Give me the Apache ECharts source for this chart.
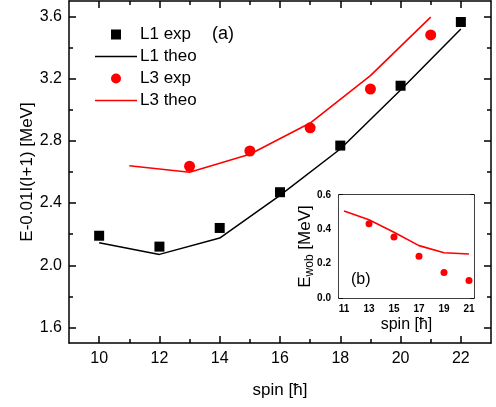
<!DOCTYPE html>
<html><head><meta charset="utf-8">
<script src="https://cdn.jsdelivr.net/npm/echarts@6/dist/echarts.min.js"></script>
<style>html,body{margin:0;padding:0;background:#fff}#c{width:496px;height:407px}</style>
</head><body><div id="c"></div>
<script>
// ---- data ----
const spinL1 = [10, 12, 14, 16, 18, 20, 22];
const l1Exp = [2.19, 2.12, 2.24, 2.47, 2.77, 3.155, 3.565];
const l1Theo = [2.145, 2.07, 2.175, 2.45, 2.748, 3.127, 3.52];
const spinL3Exp = [13, 15, 17, 19, 21];
const l3Exp = [2.637, 2.735, 2.884, 3.134, 3.482];
const spinL3Theo = [11, 13, 15, 17, 19, 21];
const l3Theo = [2.64, 2.598, 2.714, 2.915, 3.22, 3.596];
// inset (b)
const wobSpinExp = [13, 15, 17, 19, 21];
const wobExp = [0.432, 0.356, 0.243, 0.148, 0.102];
const wobSpinTheo = [11, 13, 15, 17, 19, 21];
const wobTheo = [0.507, 0.456, 0.383, 0.305, 0.264, 0.256];
// ticks
const xMajor = [10, 12, 14, 16, 18, 20, 22];
const xMinor = [11, 13, 15, 17, 19, 21];
const yMajor = [1.6, 2.0, 2.4, 2.8, 3.2, 3.6];
const yMinor = [1.8, 2.2, 2.6, 3.0, 3.4];
const inXTicks = [11, 12, 13, 14, 15, 16, 17, 18, 19, 20, 21];
const inXLabels = [11, 13, 15, 17, 19, 21];
const inYTicks = [0, 0.1, 0.2, 0.3, 0.4, 0.5, 0.6];
const inYLabels = [0, 0.2, 0.4, 0.6];

const FF = '"Liberation Sans", Arial, Helvetica, sans-serif';
const zip = (a, b) => a.map((v, i) => [v, b[i]]);
const lineC = { color: '#000', width: 1.5 };
const LINE_ICON = 'path://M0,0L84,0L84,3L0,3Z';
const SQ_ICON = 'path://M0,0L10,0L10,10L0,10Z';

function xAx(grid, pos, min, max, ticks, len, opts) {
  return Object.assign({
    type: 'value', gridIndex: grid, position: pos, min: min, max: max,
    nameMoveOverlap: false,
    axisLine: { show: false, lineStyle: lineC },
    axisTick: { show: true, inside: true, length: len, customValues: ticks, lineStyle: lineC },
    axisLabel: { show: false },
    splitLine: { show: false }
  }, opts || {});
}

const chart = echarts.init(document.getElementById('c'), null, { renderer: 'canvas' });
chart.setOption({
  animation: false,
  backgroundColor: '#fff',
  textStyle: { fontFamily: FF },
  grid: [
    { left: 69, right: 5, top: 1, bottom: 64 },
    { left: 339, right: 22, top: 195, bottom: 109, show: true, backgroundColor: '#fff', borderWidth: 0, z: 5 }
  ],
  legend: {
    orient: 'vertical', left: 90, top: 21, itemWidth: 42, itemHeight: 10, itemGap: 5,
    symbolKeepAspect: true,
    itemStyle: { borderWidth: 0, opacity: 1 },
    lineStyle: { width: 0 },
    data: [
      { name: 'L1 exp', icon: SQ_ICON },
      { name: 'L1 theo', icon: LINE_ICON },
      { name: 'L3 exp', icon: 'circle' },
      { name: 'L3 theo', icon: LINE_ICON }
    ],
    textStyle: { fontSize: 17, color: '#000', fontFamily: FF, lineHeight: 17, padding: [0, 0, 0, -2] }
  },
  graphic: [
    { type: 'text', left: 212, top: 25, style: { text: '(a)', fontSize: 18, fontFamily: FF, fill: '#000' } },
    { type: 'text', left: 351, top: 272, z: 100, style: { text: '(b)', fontSize: 16, fontFamily: FF, fill: '#000' } }
  ],
  xAxis: [
    xAx(0, 'bottom', 9, 23, xMajor, 7, {
      axisLine: { show: true, onZero: false, lineStyle: lineC },
      axisLabel: { show: true, customValues: xMajor, margin: 8, fontSize: 16, color: '#000', fontFamily: FF },
      name: 'spin [ħ]', nameLocation: 'middle', nameGap: 39,
      nameTextStyle: { fontSize: 17, color: '#000', fontFamily: FF }
    }),
    xAx(0, 'bottom', 9, 23, xMinor, 4),
    xAx(0, 'top', 9, 23, xMajor, 7, { axisLine: { show: true, onZero: false, lineStyle: lineC } }),
    xAx(0, 'top', 9, 23, xMinor, 4),
    xAx(1, 'bottom', 10.6, 21.4, inXTicks, 4, {
      axisLine: { show: true, onZero: false, lineStyle: lineC },
      axisLabel: { show: true, customValues: inXLabels, margin: 6, fontSize: 10, fontWeight: 'bold', color: '#000', fontFamily: FF },
      name: 'spin [ħ]', nameLocation: 'middle', nameGap: 19,
      nameTextStyle: { fontSize: 16, color: '#000', fontFamily: FF }
    }),
    xAx(1, 'top', 10.6, 21.4, inXTicks, 4, { axisLine: { show: true, onZero: false, lineStyle: lineC } })
  ],
  yAxis: [
    xAx(0, 'left', 1.5, 3.7, yMajor, 7, {
      axisLine: { show: true, onZero: false, lineStyle: lineC },
      axisLabel: { show: true, customValues: yMajor, margin: 7, fontSize: 16, color: '#000', fontFamily: FF, formatter: v => v.toFixed(1) },
      name: 'E-0.01I(I+1) [MeV]', nameLocation: 'middle', nameGap: 33,
      nameTextStyle: { fontSize: 17, color: '#000', fontFamily: FF }
    }),
    xAx(0, 'left', 1.5, 3.7, yMinor, 4),
    xAx(0, 'right', 1.5, 3.7, yMajor, 7, { axisLine: { show: true, onZero: false, lineStyle: lineC } }),
    xAx(0, 'right', 1.5, 3.7, yMinor, 4),
    xAx(1, 'left', 0, 0.6, inYTicks, 4, {
      axisLine: { show: true, onZero: false, lineStyle: lineC },
      axisLabel: { show: true, customValues: inYLabels, margin: 8, fontSize: 10, fontWeight: 'bold', color: '#000', fontFamily: FF, formatter: v => v.toFixed(1) },
      name: '{e|E}{s|wob}{e| [MeV]}', nameLocation: 'middle', nameGap: 23,
      nameTextStyle: {
        color: '#000', fontFamily: FF,
        rich: {
          e: { fontSize: 17, lineHeight: 21, fontFamily: FF, color: '#000' },
          s: { fontSize: 12, lineHeight: 12, verticalAlign: 'bottom', fontFamily: FF, color: '#000' }
        }
      }
    }),
    xAx(1, 'right', 0, 0.6, inYTicks, 4, { axisLine: { show: true, onZero: false, lineStyle: lineC } })
  ],
  series: [
    { name: 'L1 exp', type: 'scatter', xAxisIndex: 0, yAxisIndex: 0, symbol: 'rect', symbolSize: 10,
      itemStyle: { color: '#000', opacity: 1 }, data: zip(spinL1, l1Exp), z: 4 },
    { name: 'L1 theo', type: 'line', xAxisIndex: 0, yAxisIndex: 0, symbol: 'none', showSymbol: false,
      lineStyle: { color: '#000', width: 1.5 }, itemStyle: { color: '#000' }, data: zip(spinL1, l1Theo), z: 3 },
    { name: 'L3 exp', type: 'scatter', xAxisIndex: 0, yAxisIndex: 0, symbol: 'circle', symbolSize: 11,
      itemStyle: { color: '#ff0000', opacity: 1 }, data: zip(spinL3Exp, l3Exp), z: 4 },
    { name: 'L3 theo', type: 'line', xAxisIndex: 0, yAxisIndex: 0, symbol: 'none', showSymbol: false,
      lineStyle: { color: '#ff0000', width: 1.6 }, itemStyle: { color: '#ff0000' }, data: zip(spinL3Theo, l3Theo), z: 3 },
    { name: 'wob exp', type: 'scatter', xAxisIndex: 4, yAxisIndex: 4, symbol: 'circle', symbolSize: 7,
      itemStyle: { color: '#ff0000', opacity: 1 }, data: zip(wobSpinExp, wobExp), z: 10 },
    { name: 'wob theo', type: 'line', xAxisIndex: 4, yAxisIndex: 4, symbol: 'none', showSymbol: false,
      lineStyle: { color: '#ff0000', width: 1.6 }, data: zip(wobSpinTheo, wobTheo), z: 10 }
  ]
});
</script></body></html>
